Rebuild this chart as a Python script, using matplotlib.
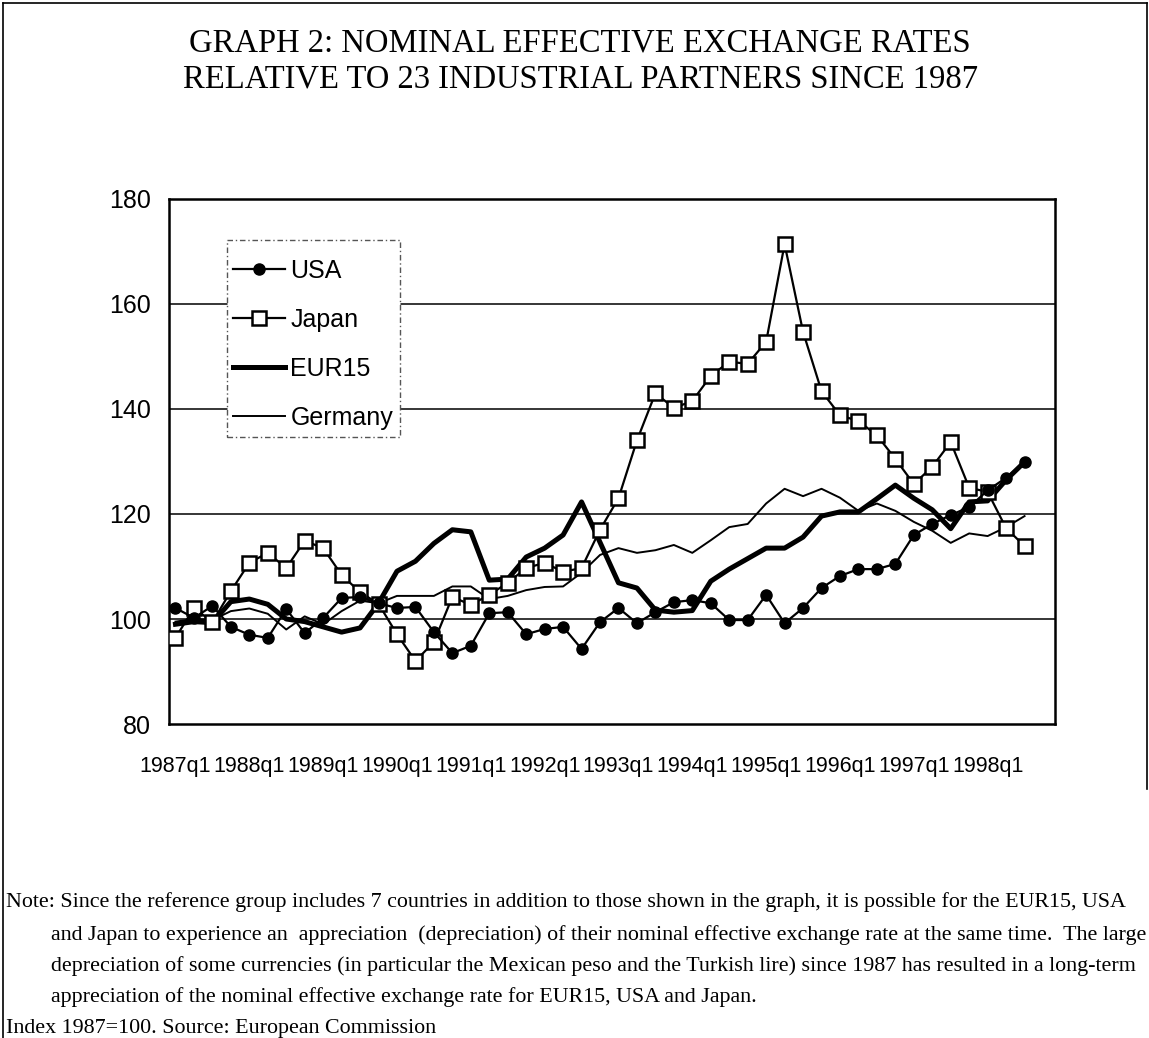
import numpy as np
import matplotlib
matplotlib.use("Agg")
import matplotlib.pyplot as plt
from matplotlib.lines import Line2D
from matplotlib.patches import Rectangle

# quarterly index, 1987=100, 1987q1 .. 1998q3
quarters = [f"{y}q{q}" for y in range(1987, 1999) for q in range(1, 5)][:47]

usa = [102.1, 100.2, 102.5, 98.5, 97.0, 96.4, 101.9, 97.3, 100.2, 104.0, 104.2, 103.0,
       102.1, 102.3, 97.5, 93.5, 94.9, 101.1, 101.3, 97.1, 98.1, 98.5, 94.3, 99.4,
       102.1, 99.2, 101.3, 103.2, 103.6, 103.0, 99.8, 99.8, 104.6, 99.2, 102.1, 105.9,
       108.2, 109.5, 109.5, 110.5, 116.0, 118.1, 119.8, 121.3, 124.5, 126.9, 129.9]

japan = [96.4, 102.1, 99.4, 105.3, 110.7, 112.6, 109.7, 114.9, 113.5, 108.4, 105.1, 102.9,
         97.1, 92.0, 95.6, 104.2, 102.7, 104.6, 106.9, 109.7, 110.7, 109.0, 109.7, 117.0,
         123.0, 134.0, 143.0, 140.2, 141.5, 146.3, 149.0, 148.6, 152.8, 171.4, 154.7, 143.4,
         138.8, 137.7, 135.0, 130.5, 125.7, 129.0, 133.7, 125.0, 124.2, 117.3, 113.9]

eur15 = [99.0, 99.5, 99.3, 103.3, 103.8, 102.8, 100.0, 99.5, 98.5, 97.5, 98.3, 103.0,
         109.1, 111.0, 114.4, 117.0, 116.6, 107.4, 107.6, 111.8, 113.5,
         116.0, 122.3, 114.6, 106.9, 105.9, 101.7, 101.3, 101.6, 107.2, 109.5,
         111.5, 113.5, 113.5, 115.6, 119.6, 120.4, 120.4, 122.9, 125.5, 123.0, 120.8,
         117.2, 122.3, 122.5, 126.5, 129.9]

germany = [99.5, 100.0, 99.8, 101.5, 102.0, 101.0, 98.0, 100.5, 99.0, 101.5, 103.5, 103.0,
           104.4, 104.4, 104.4, 106.2, 106.2, 103.8, 104.4, 105.5, 106.1,
           106.2, 108.8, 112.2, 113.5, 112.6, 113.1, 114.1, 112.6, 115.0, 117.5,
           118.1, 122.0, 124.8, 123.4, 124.8, 123.1, 120.6, 122.0, 120.6, 118.5, 116.8,
           114.5, 116.3, 115.8, 117.5, 119.6]

tick_pos = list(range(0, 47, 4))
tick_labels = [quarters[i] for i in tick_pos]

sans = ["Liberation Sans", "DejaVu Sans"]
serif = ["Liberation Serif", "DejaVu Serif"]

fig = plt.figure(figsize=(11.49, 10.38), dpi=100)
ax = fig.add_axes([0.1471, 0.3025, 0.7711, 0.5058])

x = np.arange(len(quarters))
ax.plot(x, germany, color="black", lw=1.4, zorder=3)
ax.plot(x, eur15, color="black", lw=3.6, zorder=3)
ax.plot(x, japan, color="black", lw=1.6, marker="s", ms=9.5, mfc="white",
        mec="black", mew=1.8, zorder=4)
ax.plot(x, usa, color="black", lw=1.6, marker="o", ms=8, mfc="black",
        mec="black", zorder=5)

ax.set_ylim(80, 180)
ax.set_yticks([80, 100, 120, 140, 160, 180])
ax.set_xlim(-0.35, 47.65)
ax.set_xticks(tick_pos)
ax.set_xticklabels(tick_labels)
for t in ax.get_xticklabels():
    t.set_family(sans)
    t.set_fontsize(15.5)
for t in ax.get_yticklabels():
    t.set_family(sans)
    t.set_fontsize(18)
ax.tick_params(axis="x", length=0, pad=23)
ax.tick_params(axis="y", length=0, pad=13)
for y in [100, 120, 140, 160]:
    ax.axhline(y, color="black", lw=1.1, zorder=1)
for s in ax.spines.values():
    s.set_linewidth(1.8)

# legend box drawn separately (dash-dot outline, white fill)
ax.add_patch(Rectangle((0.0655, 0.5467), 0.1953, 0.3752, transform=ax.transAxes,
                       facecolor="white", edgecolor="#555555", lw=1.0,
                       linestyle=(0, (4, 2, 1, 2)), zorder=9))

handles = [
    Line2D([], [], color="black", lw=1.6, marker="o", ms=8, mfc="black"),
    Line2D([], [], color="black", lw=1.6, marker="s", ms=9.5, mfc="white", mew=1.8),
    Line2D([], [], color="black", lw=3.6),
    Line2D([], [], color="black", lw=1.4),
]
leg = ax.legend(handles, ["USA", "Japan", "EUR15", "Germany"], loc="upper left",
                bbox_to_anchor=(0.0722, 0.8865), borderaxespad=0, borderpad=0,
                numpoints=1, handlelength=2.1, handletextpad=0.2, labelspacing=1.0,
                frameon=False, prop={"family": sans, "size": 18})
leg.set_zorder(10)

fig.text(0.505, 0.958, "GRAPH 2: NOMINAL EFFECTIVE EXCHANGE RATES", ha="center",
         va="center", family=serif, fontsize=23.5)
fig.text(0.505, 0.924, "RELATIVE TO 23 INDUSTRIAL PARTNERS SINCE 1987", ha="center",
         va="center", family=serif, fontsize=23.5)

note = [
    (0.005, "Note: Since the reference group includes 7 countries in addition to those shown in the graph, it is possible for the EUR15, USA"),
    (0.044, "and Japan to experience an  appreciation  (depreciation) of their nominal effective exchange rate at the same time.  The large"),
    (0.044, "depreciation of some currencies (in particular the Mexican peso and the Turkish lire) since 1987 has resulted in a long-term"),
    (0.044, "appreciation of the nominal effective exchange rate for EUR15, USA and Japan."),
    (0.005, "Index 1987=100. Source: European Commission"),
]
ys = [0.131, 0.099, 0.069, 0.039, 0.009]
for (xx, line), yy in zip(note, ys):
    fig.text(xx, yy, line, ha="left", va="center", family=serif, fontsize=15.8)

# outer frame
fig.add_artist(Line2D([0.003, 0.003], [0.0, 0.997], color="black", lw=1.2))
fig.add_artist(Line2D([0.003, 0.998], [0.997, 0.997], color="black", lw=1.2))
fig.add_artist(Line2D([0.998, 0.998], [0.997, 0.24], color="black", lw=1.2))

fig.savefig("out.png", dpi=100)
